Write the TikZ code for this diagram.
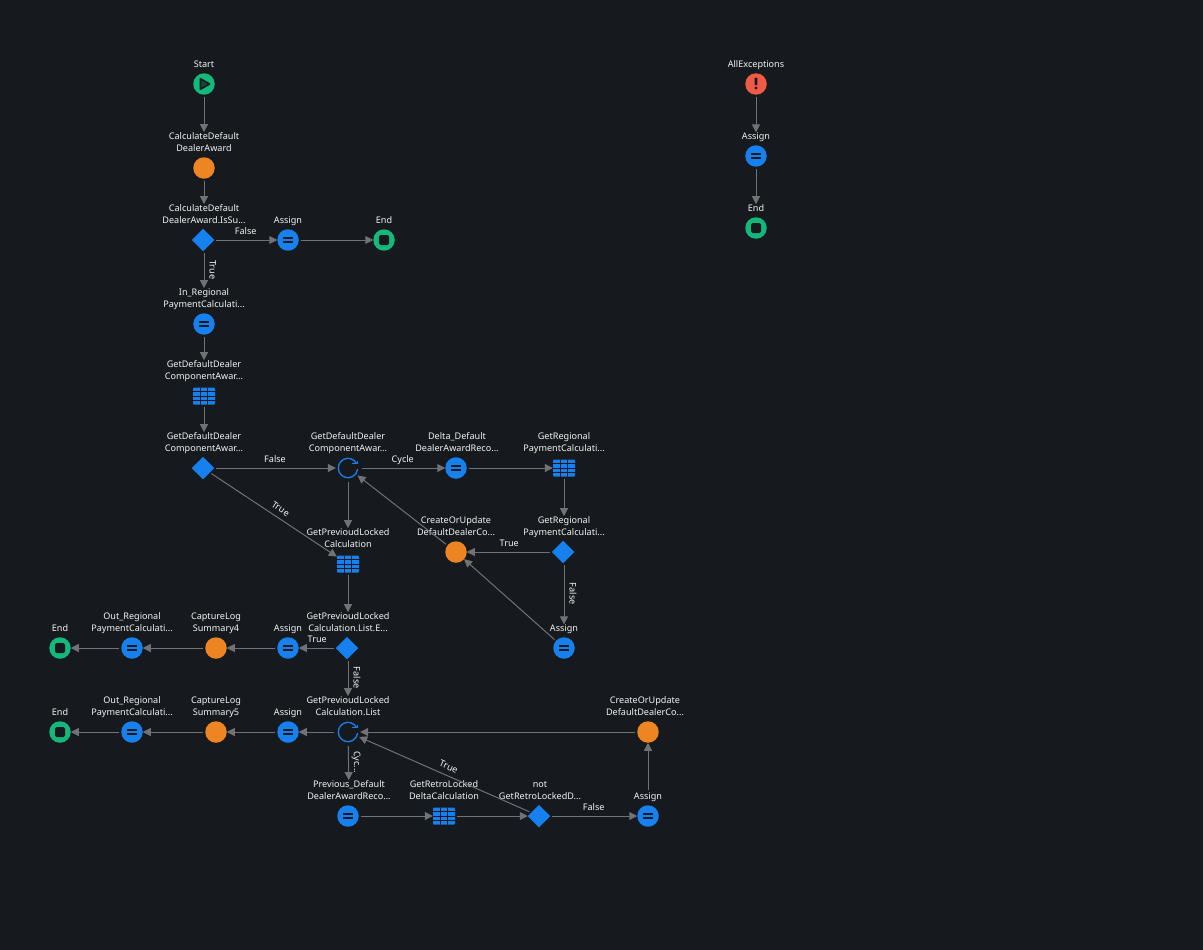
\documentclass[tikz,border=0pt]{standalone}
\usepackage{fontspec}
\setmainfont{Noto Sans}
\usetikzlibrary{%
  arrows.meta,%
  shapes.geometric%
}
\definecolor{canvasbg}{RGB}{22,26,31}
\definecolor{linegray}{RGB}{112,114,117}
\definecolor{textwhite}{RGB}{242,243,244}
\definecolor{flowblue}{RGB}{22,128,238}
\definecolor{flowgreen}{RGB}{20,184,122}
\definecolor{floworange}{RGB}{236,133,34}
\definecolor{flowred}{RGB}{238,90,68}
\tikzset{>={Triangle[length=8pt,width=8pt]}}
\tikzset{
  flow/.style={draw=linegray,line width=1pt,->,shorten <=2pt},
  txt/.style={text=textwhite,font=\fontsize{9.1}{12}\selectfont,inner sep=0pt,align=center,anchor=south,text depth=2.5pt},
  edgetxt/.style={text=textwhite,font=\fontsize{9.1}{12}\selectfont,inner sep=1pt,midway,text height=7pt,text depth=2pt},
  dot/.style={circle,inner sep=0pt,minimum size=21.5pt,outer sep=0pt},
  startdot/.style={dot,fill=flowgreen,path picture={
      \draw[canvasbg,fill=flowgreen!30!canvasbg,line width=1.6pt,line join=round] (-3.5,-5.2) -- (5.6,0) -- (-3.5,5.2) -- cycle;}},
  enddot/.style={dot,fill=flowgreen,path picture={
      \fill[canvasbg,rounded corners=1.5pt] (-5,-5) rectangle (5,5);}},
  excdot/.style={dot,fill=flowred,path picture={
      \fill[canvasbg] (-1.3,-1.2) -- (1.3,-1.2) -- (1.5,6) -- (-1.5,6) -- cycle;
      \fill[canvasbg] (0,-4) circle (1.6);}},
  assigndot/.style={dot,fill=flowblue,path picture={
      \fill[canvasbg] (-5,1.2) rectangle (5,3);
      \fill[canvasbg] (-5,-3) rectangle (5,-1.2);}},
  calldot/.style={dot,fill=floworange},
  ifdia/.style={diamond,fill=flowblue,inner sep=0pt,minimum size=22.5pt,outer sep=0pt},
  loopdot/.style={circle,inner sep=0pt,minimum size=24pt,path picture={
      \draw[flowblue,line width=1.3pt] (8.56,4.55) arc (28:353:9.7);
      \draw[flowblue,line width=1.3pt] (4.3,4.4) -- (9.3,4.4) -- (9.3,8.9);}},
  tabledot/.style={rectangle,inner sep=0pt,minimum width=22pt,minimum height=17pt,fill=flowblue,
    rounded corners=1pt,path picture={
      \foreach \xl in {-3.7,3.7} \draw[canvasbg,line width=1pt] (\xl,-9) -- (\xl,9);
      \foreach \yl in {-4.2,0,4.2} \draw[canvasbg,line width=1pt] (-11,\yl) -- (11,\yl);}}
}

\begin{document}
\begin{tikzpicture}[x=1pt,y=1pt]
    \useasboundingbox[fill=canvasbg] (0,0) rectangle (1203,-950);
    % main column
    \node[startdot] (start) at (204,-84) {};
    \node[txt] (startlab) at (204,-70) {Start};
    \node[calldot] (calc) at (204,-168) {};
    \node[txt] (calclab) at (204,-154) {CalculateDefault\\DealerAward};
    \node[ifdia] (calcif) at (203,-240) {};
    \node[txt] (calciflab) at (204,-226) {CalculateDefault\\DealerAward.IsSu...};
    \node[assigndot] (assigna) at (288,-240) {};
    \node[txt] (assignalab) at (288,-226) {Assign};
    \node[enddot] (enda) at (384,-240) {};
    \node[txt] (endalab) at (384,-226) {End};
    \node[assigndot] (inreg) at (204,-324) {};
    \node[txt] (inreglab) at (204,-310) {In\_Regional\\PaymentCalculati...};
    \node[tabledot] (compagg) at (204,-396) {};
    \node[txt] (compagglab) at (204,-382) {GetDefaultDealer\\ComponentAwar...};
    \node[ifdia] (compif) at (203,-468) {};
    \node[txt] (compiflab) at (204,-454) {GetDefaultDealer\\ComponentAwar...};
    % first loop
    \node[loopdot] (looptop) at (348,-468) {};
    \node[txt] (looptoplab) at (348,-454) {GetDefaultDealer\\ComponentAwar...};
    \node[assigndot] (delta) at (456,-468) {};
    \node[txt] (deltalab) at (457,-454) {Delta\_Default\\DealerAwardReco...};
    \node[tabledot] (regagg) at (564,-468) {};
    \node[txt] (regagglab) at (564,-454) {GetRegional\\PaymentCalculati...};
    \node[ifdia] (regif) at (563,-552) {};
    \node[txt] (regiflab) at (564,-538) {GetRegional\\PaymentCalculati...};
    \node[calldot] (couta) at (456,-552) {};
    \node[txt] (coutalab) at (456,-538) {CreateOrUpdate\\DefaultDealerCo...};
    \node[assigndot] (assignb) at (564,-648) {};
    \node[txt] (assignblab) at (564,-634) {Assign};
    \node[tabledot] (lockagg) at (348,-564) {};
    \node[txt] (lockagglab) at (348,-550) {GetPrevioudLocked\\Calculation};
    \node[ifdia] (lockif) at (347,-648) {};
    \node[txt] (lockiflab) at (348,-634) {GetPrevioudLocked\\Calculation.List.E...};
    % upper row to the left
    \node[assigndot] (assignc) at (288,-648) {};
    \node[txt] (assignclab) at (288,-634) {Assign};
    \node[calldot] (logfour) at (216,-648) {};
    \node[txt] (logfourlab) at (216,-634) {CaptureLog\\Summary4};
    \node[assigndot] (outa) at (132,-648) {};
    \node[txt] (outalab) at (132,-634) {Out\_Regional\\PaymentCalculati...};
    \node[enddot] (endb) at (60,-648) {};
    \node[txt] (endblab) at (60,-634) {End};
    % second loop
    \node[loopdot] (loopbot) at (348,-732) {};
    \node[txt] (loopbotlab) at (348,-718) {GetPrevioudLocked\\Calculation.List};
    \node[assigndot] (assignd) at (288,-732) {};
    \node[txt] (assigndlab) at (288,-718) {Assign};
    \node[calldot] (logfive) at (216,-732) {};
    \node[txt] (logfivelab) at (216,-718) {CaptureLog\\Summary5};
    \node[assigndot] (outb) at (132,-732) {};
    \node[txt] (outblab) at (132,-718) {Out\_Regional\\PaymentCalculati...};
    \node[enddot] (endc) at (60,-732) {};
    \node[txt] (endclab) at (60,-718) {End};
    \node[assigndot] (prevrec) at (348,-816) {};
    \node[txt] (prevreclab) at (349,-802) {Previous\_Default\\DealerAwardReco...};
    \node[tabledot] (retroagg) at (444,-816) {};
    \node[txt] (retroagglab) at (444,-802) {GetRetroLocked\\DeltaCalculation};
    \node[ifdia] (retroif) at (539,-816) {};
    \node[txt] (retroiflab) at (540,-802) {not\\GetRetroLockedD...};
    \node[assigndot] (assigne) at (648,-816) {};
    \node[txt] (assignelab) at (648,-802) {Assign};
    \node[calldot] (coutb) at (648,-732) {};
    \node[txt] (coutblab) at (645,-718) {CreateOrUpdate\\DefaultDealerCo...};
    % exception flow
    \node[excdot] (exc) at (756,-84) {};
    \node[txt] (exclab) at (756,-70) {AllExceptions};
    \node[assigndot] (assignf) at (756,-156) {};
    \node[txt] (assignflab) at (756,-142) {Assign};
    \node[enddot] (endd) at (756,-228) {};
    \node[txt] (enddlab) at (756,-214) {End};
    % connectors
    \draw[flow] (start) -- (calclab);
    \draw[flow] (calc) -- (calciflab);
    \draw[flow] (calcif.east) -- node[edgetxt,above=2pt] {False} (assigna);
    \draw[flow] (assigna) -- (enda);
    \draw[flow] (calcif.south -| inreglab.north) -- node[edgetxt,sloped,above=2pt] {True} (inreglab.north);
    \draw[flow] (inreg) -- (compagglab);
    \draw[flow] (compagg) -- (compiflab);
    \draw[flow] (compif.east) -- node[edgetxt,above=2pt] {False} (looptop);
    \draw[flow] (compif) -- node[edgetxt,pos=.52,sloped,above=2pt] {True} (lockagg);
    \draw[flow] (looptop) -- node[edgetxt,above=2pt] {Cycle} (delta);
    \draw[flow] (looptop) -- (lockagglab);
    \draw[flow] (delta) -- (regagg);
    \draw[flow] (regagg) -- (regiflab);
    \draw[flow] (regif.west) -- node[edgetxt,above=2pt] {True} (couta);
    \draw[flow] (regif.south -| assignblab.north) -- node[edgetxt,sloped,above=2pt] {False} (assignblab.north);
    \draw[flow] (couta) -- (looptop);
    \draw[flow] (assignb) -- (couta);
    \draw[flow] (lockagg) -- (lockiflab);
    \draw[flow] (lockif.west) -- node[edgetxt,above=2pt] {True} (assignc);
    \draw[flow] (lockif.south -| loopbotlab.north) -- node[edgetxt,sloped,above=2pt] {False} (loopbotlab.north);
    \draw[flow] (assignc) -- (logfour);
    \draw[flow] (logfour) -- (outa);
    \draw[flow] (outa) -- (endb);
    \draw[flow] (loopbot) -- (assignd);
    \draw[flow] (assignd) -- (logfive);
    \draw[flow] (logfive) -- (outb);
    \draw[flow] (outb) -- (endc);
    \draw[flow] (loopbot) -- node[edgetxt,sloped,above=2pt] {Cyc...} (prevreclab);
    \draw[flow] (prevrec) -- (retroagg);
    \draw[flow] (retroagg) -- (retroif);
    \draw[flow] (retroif) -- node[edgetxt,sloped,above=2pt] {True} (loopbot);
    \draw[flow] (retroif.east) -- node[edgetxt,above=2pt] {False} (assigne);
    \draw[flow] (assignelab) -- (coutb);
    \draw[flow] (coutb) -- (loopbot);
    \draw[flow] (exc) -- (assignflab);
    \draw[flow] (assignf) -- (enddlab);
  \end{tikzpicture}
\end{document}
